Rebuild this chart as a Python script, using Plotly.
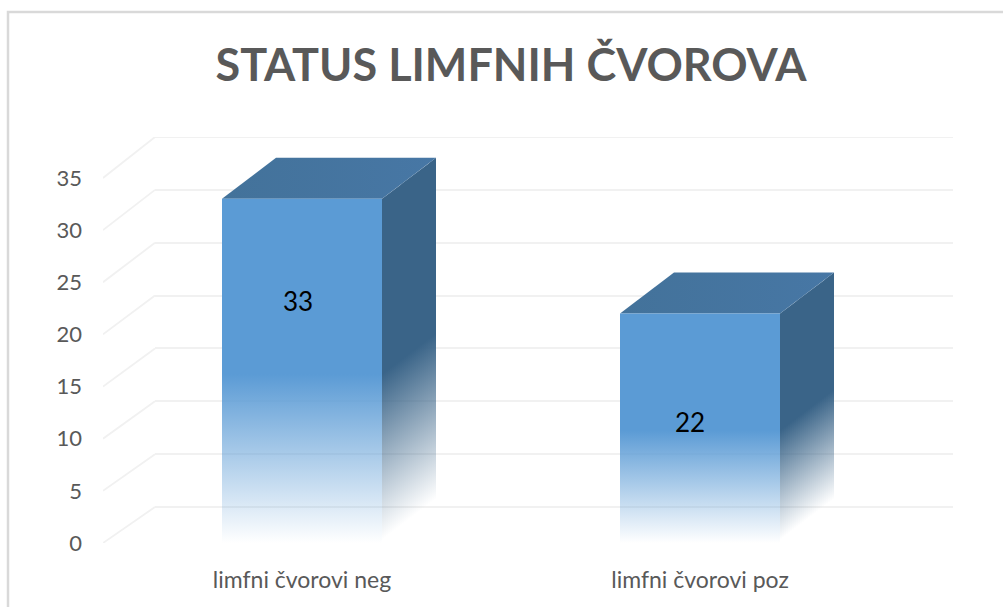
import plotly.graph_objects as go

# Data
categories = ["limfni čvorovi neg", "limfni čvorovi poz"]
values = [33, 22]
y_ticks = [0, 5, 10, 15, 20, 25, 30, 35]
title_text = "STATUS LIMFNIH ČVOROVA"

# Page geometry (pixels)
W, H = 1003, 607
FRONT_LEFT, WALL_LEFT, RIGHT = 103, 155, 953
FRONT_ZERO, WALL_ZERO, TOP = 543, 507, 137
PX_PER_CAT, PX_PER_UNIT = 398.0, 10.43
WALL_PX_PER_UNIT = (WALL_ZERO - TOP) / 35

x_min = -0.5
x_max = x_min + (RIGHT - FRONT_LEFT) / PX_PER_CAT
y_max = (FRONT_ZERO - TOP) / PX_PER_UNIT

half_w = 80 / PX_PER_CAT
STRIP = 2 / PX_PER_CAT
N_STRIPS = 27
depth_y = 41 / PX_PER_UNIT

FRONT_RGB = "91,155,213"
SIDE_RGB = "58,100,136"
TOP_LEFT = "#43729a"
TOP_RIGHT = "#4777a5"
GRID = "#f1f1f1"
label_drop = [10.1, 10.7]
label_shift_px = [-4, -10]

fig = go.Figure()

# An empty trace on the back wall so that its subplot and gridlines exist
fig.add_trace(go.Scatter(x=[None], y=[None], mode="lines", xaxis="x", yaxis="y",
                         hoverinfo="skip", showlegend=False))


def back_value(v):
    return (FRONT_ZERO - (WALL_ZERO - v * WALL_PX_PER_UNIT)) / PX_PER_UNIT


def poly(xs, ys, **kw):
    fig.add_trace(go.Scatter(x=xs, y=ys, mode="lines", fill="toself", line=dict(width=0),
                             xaxis="x2", yaxis="y2", hoverinfo="skip", showlegend=False, **kw))


def fade(rgb, start, stop):
    return dict(type="vertical", start=start, stop=stop,
                colorscale=[[0, f"rgba({rgb},0)"], [1, f"rgba({rgb},1)"]])


# Left-wall diagonals, and the two end gridlines of the back wall
for t in y_ticks:
    fig.add_trace(go.Scatter(
        x=[x_min, x_min + (WALL_LEFT - FRONT_LEFT) / PX_PER_CAT], y=[t, back_value(t)],
        mode="lines", line=dict(color=GRID, width=1.8),
        xaxis="x2", yaxis="y2", hoverinfo="skip", showlegend=False))
for t in (y_ticks[0], y_ticks[-1]):
    fig.add_trace(go.Scatter(
        x=[x_min + (WALL_LEFT - FRONT_LEFT) / PX_PER_CAT, x_max], y=[back_value(t), back_value(t)],
        mode="lines", line=dict(color=GRID, width=1.8), cliponaxis=False,
        xaxis="x2", yaxis="y2", hoverinfo="skip", showlegend=False))

# 3D columns
for i, v in enumerate(values):
    xl, xr = i - half_w, i + half_w
    solid = 0.49 * v
    # side face: thin skewed strips so that the fade follows the depth
    for s in range(N_STRIPS):
        f0, f1 = s / N_STRIPS, (s + 1) / N_STRIPS
        x0, x1 = xr + s * STRIP, xr + (s + 1) * STRIP
        fm = (f0 + f1) / 2
        poly([x0, x1, x1, x0, x0],
             [f0 * depth_y, f1 * depth_y, v + f1 * depth_y, v + f0 * depth_y, f0 * depth_y],
             fillgradient=fade(SIDE_RGB, fm * depth_y + 0.3, solid + fm * depth_y))
    # top face
    xb = xr + N_STRIPS * STRIP
    poly([xl, xr, xb, xl + N_STRIPS * STRIP, xl], [v, v, v + depth_y, v + depth_y, v],
         fillgradient=dict(type="horizontal",
                           colorscale=[[0, TOP_LEFT], [1, TOP_RIGHT]]))
    # front face
    poly([xl, xr, xr, xl, xl], [0, 0, v, v, 0],
         fillgradient=fade(FRONT_RGB, 0.0, solid))

# Data labels
fig.add_trace(go.Scatter(
    x=[i + d / PX_PER_CAT for i, d in enumerate(label_shift_px)],
    y=[v - d for v, d in zip(values, label_drop)],
    text=[str(v) for v in values], mode="text", textposition="middle center",
    textfont=dict(family="Lato", size=26, color="#000000"),
    xaxis="x2", yaxis="y2", hoverinfo="skip", showlegend=False))

fig.update_layout(
    width=W, height=H, autosize=False,
    margin=dict(l=0, r=0, t=0, b=0, autoexpand=False),
    paper_bgcolor="#ffffff", plot_bgcolor="rgba(0,0,0,0)",
    showlegend=False,
    title=dict(text=title_text, x=511 / W, xanchor="center", y=1 - 65 / H, yanchor="middle",
               font=dict(family="Lato", size=45, color="#595959", weight="bold")),
    # back wall with the real gridlines
    xaxis=dict(domain=[WALL_LEFT / W, RIGHT / W], range=[0, 1], showgrid=False, zeroline=False,
               showticklabels=False, ticks="", anchor="y", automargin=False),
    yaxis=dict(domain=[1 - WALL_ZERO / H, 1 - TOP / H], range=[0, 35], tickvals=y_ticks,
               showgrid=True, gridcolor=GRID, gridwidth=1.8, zeroline=False,
               showticklabels=False, ticks="", anchor="x", automargin=False),
    # front plane with the value and category axes
    xaxis2=dict(domain=[FRONT_LEFT / W, RIGHT / W], range=[x_min, x_max], tickvals=[0, 1],
                ticktext=categories, showgrid=False, zeroline=False, ticks="",
                tickfont=dict(family="Lato", size=23, color="#595959"),
                ticklabelstandoff=21, anchor="y2", automargin=False),
    yaxis2=dict(domain=[1 - FRONT_ZERO / H, 1 - TOP / H], range=[0, y_max], tickvals=y_ticks,
                showgrid=False, zeroline=False, ticks="",
                tickfont=dict(family="Lato", size=22, color="#595959"),
                ticklabelstandoff=20, anchor="x2", automargin=False),
    shapes=[dict(type="path", xref="paper", yref="paper",
                 path=f"M {8 / W} 0 L {8 / W} {1 - 12 / H} L 1 {1 - 12 / H}",
                 line=dict(color="#d9d9d9", width=2.5))],
)

fig.write_html("out.html", config=dict(displayModeBar=False),
               post_script="document.body.style.margin='0';document.body.style.overflow='hidden';")
